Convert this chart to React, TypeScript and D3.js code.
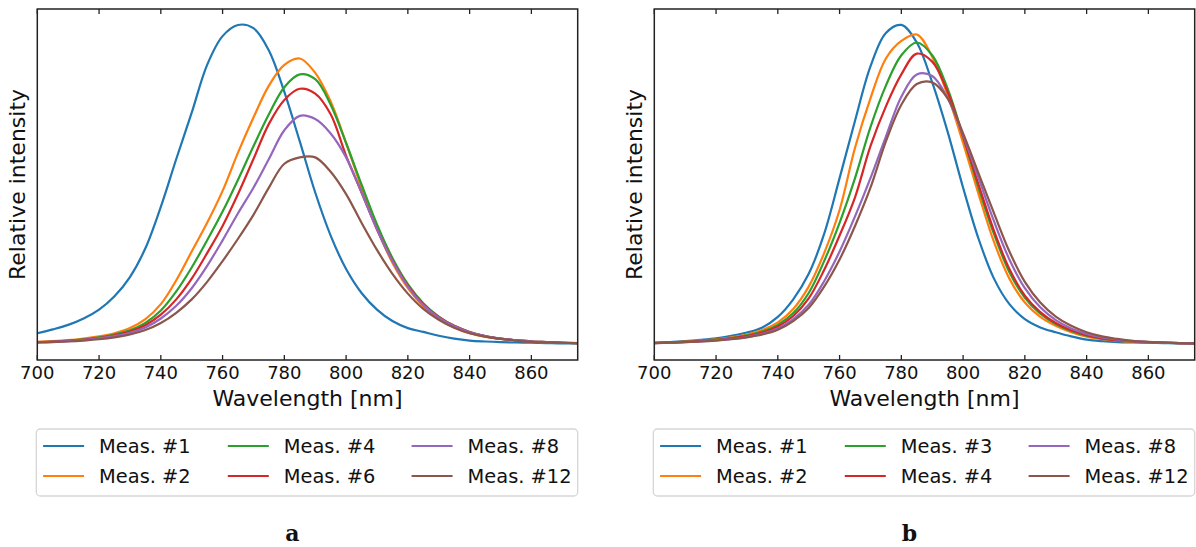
import React from "react";
import * as d3 from "d3";

const wavelengths = [700,705,710,715,720,725,730,735,740,745,750,755,760,765,770,775,780,785,790,795,800,805,810,815,820,825,830,835,840,845,850,855,860,865,870,875];
const xTicks = [700,720,740,760,780,800,820,840,860];

const labelsA = ["Meas. #1","Meas. #2","Meas. #4","Meas. #6","Meas. #8","Meas. #12"];
const labelsB = ["Meas. #1","Meas. #2","Meas. #3","Meas. #4","Meas. #8","Meas. #12"];
const colors = ["#1f77b4","#ff7f0e","#2ca02c","#d62728","#9467bd","#8c564b"];

const a1 = [0.034,0.046,0.06,0.08,0.108,0.15,0.21,0.3,0.43,0.58,0.725,0.875,0.965,1.0,0.99,0.92,0.79,0.635,0.475,0.34,0.235,0.16,0.108,0.072,0.05,0.038,0.026,0.017,0.011,0.008,0.006,0.005,0.004,0.003,0.002,0.002];
const a2 = [0.007,0.009,0.012,0.017,0.024,0.034,0.05,0.078,0.125,0.2,0.29,0.38,0.48,0.6,0.71,0.81,0.875,0.895,0.85,0.76,0.63,0.49,0.36,0.255,0.175,0.118,0.079,0.052,0.034,0.023,0.016,0.011,0.008,0.005,0.004,0.003];
const a4 = [0.006,0.008,0.011,0.015,0.021,0.03,0.043,0.066,0.105,0.165,0.24,0.325,0.415,0.515,0.62,0.72,0.805,0.845,0.83,0.75,0.63,0.5,0.375,0.27,0.188,0.128,0.086,0.057,0.038,0.025,0.017,0.012,0.008,0.006,0.004,0.003];
const a6 = [0.006,0.008,0.01,0.014,0.019,0.027,0.039,0.059,0.092,0.14,0.205,0.285,0.37,0.47,0.58,0.69,0.765,0.8,0.785,0.72,0.59,0.475,0.36,0.262,0.183,0.125,0.085,0.057,0.038,0.025,0.017,0.012,0.008,0.006,0.004,0.003];
const a8 = [0.005,0.007,0.009,0.013,0.018,0.025,0.035,0.052,0.08,0.12,0.175,0.245,0.325,0.41,0.49,0.58,0.67,0.715,0.705,0.66,0.585,0.475,0.36,0.26,0.18,0.122,0.083,0.056,0.037,0.025,0.017,0.012,0.008,0.006,0.004,0.003];
const a12 = [0.005,0.006,0.008,0.011,0.015,0.021,0.03,0.044,0.066,0.098,0.14,0.195,0.26,0.33,0.405,0.49,0.565,0.585,0.585,0.54,0.47,0.38,0.295,0.22,0.158,0.11,0.076,0.051,0.034,0.023,0.016,0.011,0.007,0.005,0.004,0.003];

const b1 = [0.004,0.006,0.009,0.013,0.018,0.026,0.036,0.052,0.085,0.14,0.22,0.345,0.52,0.7,0.87,0.975,1.0,0.945,0.82,0.665,0.49,0.33,0.205,0.125,0.078,0.052,0.037,0.024,0.014,0.009,0.006,0.005,0.004,0.003,0.002,0.002];
const b2 = [0.004,0.005,0.008,0.011,0.015,0.021,0.03,0.044,0.068,0.11,0.18,0.285,0.42,0.615,0.77,0.895,0.95,0.97,0.9,0.78,0.63,0.47,0.32,0.205,0.13,0.085,0.057,0.037,0.023,0.015,0.01,0.007,0.005,0.004,0.003,0.002];
const b3 = [0.004,0.005,0.007,0.01,0.014,0.019,0.027,0.039,0.06,0.097,0.16,0.26,0.38,0.52,0.68,0.81,0.905,0.945,0.905,0.8,0.65,0.49,0.345,0.225,0.145,0.095,0.063,0.041,0.026,0.017,0.011,0.008,0.005,0.004,0.003,0.002];
const b4 = [0.003,0.005,0.007,0.009,0.013,0.018,0.025,0.036,0.055,0.088,0.143,0.232,0.34,0.46,0.62,0.745,0.845,0.91,0.885,0.79,0.65,0.5,0.355,0.235,0.152,0.1,0.066,0.043,0.028,0.018,0.012,0.008,0.006,0.004,0.003,0.002];
const b8 = [0.003,0.004,0.006,0.008,0.012,0.016,0.022,0.032,0.049,0.078,0.123,0.197,0.29,0.4,0.52,0.65,0.775,0.845,0.84,0.77,0.655,0.52,0.385,0.265,0.175,0.115,0.075,0.049,0.032,0.021,0.014,0.009,0.006,0.004,0.003,0.002];
const b12 = [0.003,0.004,0.006,0.008,0.011,0.015,0.021,0.03,0.045,0.072,0.113,0.18,0.265,0.37,0.49,0.635,0.75,0.815,0.82,0.77,0.66,0.535,0.41,0.29,0.195,0.13,0.086,0.057,0.037,0.024,0.016,0.01,0.007,0.005,0.003,0.002];

const seriesA = [a1, a2, a4, a6, a8, a12];
const seriesB = [b1, b2, b3, b4, b8, b12];

const FONT = "'DejaVu Sans', sans-serif";

function Panel({ left, series, labels, tag }: { left: number; series: number[][]; labels: string[]; tag: string }) {
  const width = 540.4;
  const top = 9;
  const bottom = 360;
  const x = d3.scaleLinear().domain([700, 875]).range([left, left + width]);
  const y = d3.scaleLinear().domain([-0.05, 1.05]).range([bottom, top]);
  const line = d3
    .line<number>()
    .x((_, i) => x(wavelengths[i]))
    .y((d) => y(d))
    .curve(d3.curveCatmullRom.alpha(0.5));

  const legTop = 429;
  const legH = 67;
  const colOff = [6.8, 191.5, 375.3];
  const rowY = [446, 476];

  return (
    <g>
      <defs>
        <clipPath id={`clip-${tag}`}>
          <rect x={left} y={top} width={width} height={bottom - top} />
        </clipPath>
      </defs>
      <g clipPath={`url(#clip-${tag})`}>
        {series.map((s, i) => (
          <path key={i} d={line(s) || ""} fill="none" stroke={colors[i]} strokeWidth={2.2} strokeLinejoin="round" />
        ))}
      </g>
      {xTicks.map((t) => (
        <g key={t}>
          <line x1={x(t)} x2={x(t)} y1={bottom} y2={bottom - 5} stroke="#222" strokeWidth={1.3} />
          <line x1={x(t)} x2={x(t)} y1={top} y2={top + 5} stroke="#222" strokeWidth={1.3} />
          <text x={x(t)} y={379} textAnchor="middle" fontFamily={FONT} fontSize={18} fill="#111">
            {t}
          </text>
        </g>
      ))}
      <rect x={left} y={top} width={width} height={bottom - top} fill="none" stroke="#222" strokeWidth={1.5} />
      <text x={left + width / 2} y={406} textAnchor="middle" fontFamily={FONT} fontSize={22} fill="#111">
        Wavelength [nm]
      </text>
      <text
        transform={`translate(${left - 12.5},${(top + bottom) / 2}) rotate(-90)`}
        textAnchor="middle"
        fontFamily={FONT}
        fontSize={22}
        fill="#111"
      >
        Relative intensity
      </text>
      <rect x={left - 1} y={legTop} width={width + 1} height={legH} rx={4} ry={4} fill="#fff" stroke="#d6d6d6" strokeWidth={1.3} />
      {labels.map((lab, i) => {
        const col = Math.floor(i / 2);
        const row = i % 2;
        const lx = left - 1 + colOff[col];
        const ly = rowY[row];
        return (
          <g key={lab + i}>
            <line x1={lx} x2={lx + 41} y1={ly} y2={ly} stroke={colors[i]} strokeWidth={2.2} />
            <text x={lx + 56} y={ly} dominantBaseline="central" fontFamily={FONT} fontSize={19.4} fill="#111">
              {lab}
            </text>
          </g>
        );
      })}
      <text x={left + width / 2 - 15} y={541} textAnchor="middle" fontFamily="'DejaVu Serif', serif" fontWeight="bold" fontSize={22} fill="#111">
        {tag}
      </text>
    </g>
  );
}

export default function App() {
  return (
    <svg width={1196} height={547} style={{ position: "absolute", left: 0, top: 0, background: "#fff" }}>
      <rect x={0} y={0} width={1196} height={547} fill="#fff" />
      <Panel left={37.3} series={seriesA} labels={labelsA} tag="a" />
      <Panel left={654.3} series={seriesB} labels={labelsB} tag="b" />
    </svg>
  );
}
